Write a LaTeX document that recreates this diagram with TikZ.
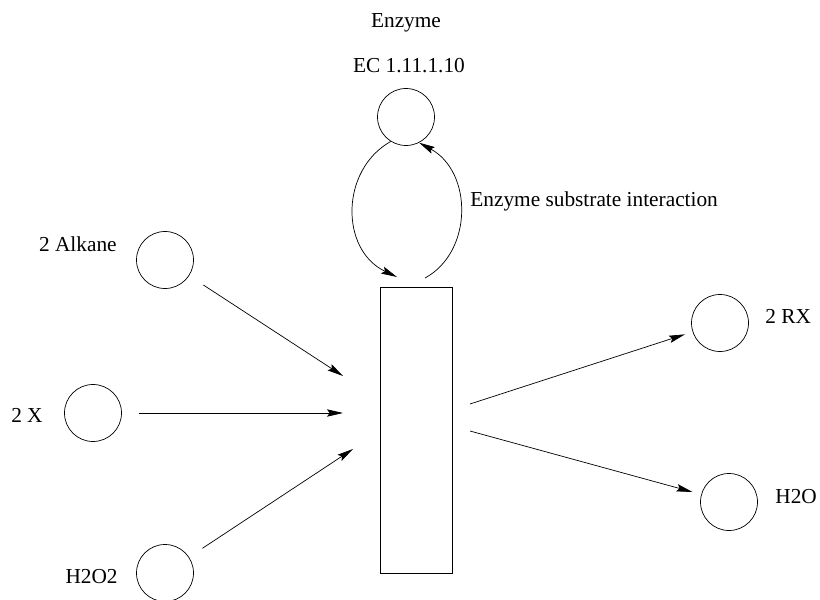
\documentclass[tikz,border=0pt]{standalone}
\usepackage{fontspec}
\setmainfont{Liberation Serif}
\usetikzlibrary{arrows.meta}

\begin{document}
\begin{tikzpicture}[x=0.03cm, y=-0.03cm, line width=0.6pt,
	spec/.style={draw, circle, minimum size=1.71cm, inner sep=0pt},
	rxn/.style={draw, rectangle, minimum width=2.16cm, minimum height=8.58cm, inner sep=0pt},
	lbl/.style={inner sep=0pt, font=\fontsize{18.2}{22}\selectfont},
	arr/.style={-{Stealth[length=0.48cm, width=0.22cm, inset=0.08cm]}}]
%	\draw[help lines] (0,0)grid[step=50](820,600);
	\useasboundingbox (0,0) rectangle (820,600);

	%title
	\node[lbl, anchor=base] (title) at (406,28) {Enzyme};

	%species
	\node[spec] (enz) at (406,117) {};
	\node[spec] (alk) at (165,260) {};
	\node[spec] (x) at (93,413) {};
	\node[spec] (hoo) at (165,573) {};
	\node[spec] (rx) at (720,323) {};
	\node[spec] (ho) at (729,502) {};
	\node[rxn] (rxn) at (416,430) {};

	\node[lbl, anchor=base] (enzl) at (409,73) {EC 1.11.1.10};
	\node[lbl, anchor=base east] (alkl) at (117,252) {2 Alkane};
	\node[lbl, anchor=base east] (xl) at (43,422) {2 X};
	\node[lbl, anchor=base east] (hool) at (118,583) {H2O2};
	\node[lbl, anchor=base west] (rxl) at (765,323) {2 RX};
	\node[lbl, anchor=base west] (hol) at (775,503) {H2O};

	%free ends next to the box
	\coordinate (alkin) at (343,376);
	\coordinate (xin) at (343,413);
	\coordinate (hooin) at (353,449);
	\coordinate (rxout) at (470,404);
	\coordinate (hoout) at (470,431);
	\coordinate (loopin) at (397,277);
	\coordinate (loopout) at (425,278);

	%substrates
	\draw[arr, shorten <=0.51cm] (alk) -- (alkin);
	\draw[arr, shorten <=0.5cm] (x) -- (xin);
	\draw[arr, shorten <=0.48cm] (hoo) -- (hooin);

	%products
	\draw[arr, shorten >=0.24cm] (rxout) -- (rx);
	\draw[arr, shorten >=0.27cm] (hoout) -- (ho);

	%enzyme loop
	\draw[arr] (enz.238) .. controls (340,170) and (340,250) .. (loopin);
	\draw[arr] (loopout) .. controls (473,252) and (473,172) .. (enz.297);
	\node[lbl, anchor=base west] (loopl) at (470,207) {Enzyme substrate interaction};

\end{tikzpicture}
\end{document}
